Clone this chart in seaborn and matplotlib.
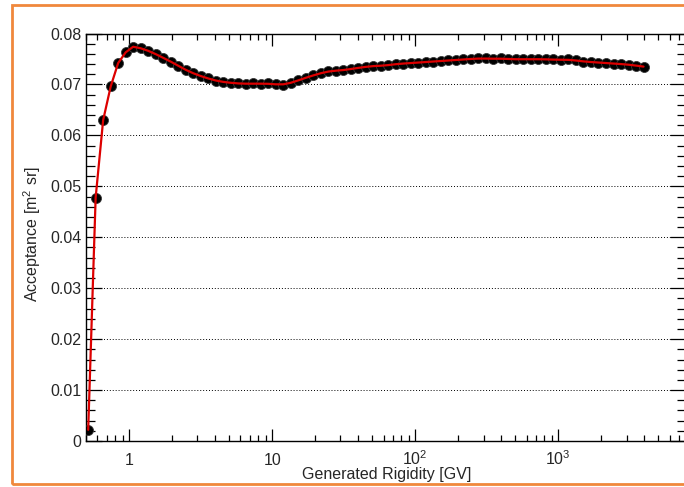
import numpy as np
import pandas as pd
import matplotlib
matplotlib.use("Agg")
import matplotlib.pyplot as plt
from matplotlib.ticker import FixedLocator, LogLocator, MultipleLocator, NullFormatter, FixedFormatter
from matplotlib.patches import Rectangle
import seaborn as sns

# Generated rigidity bin centres [GV]
rigidity = [
    0.518, 0.584, 0.659, 0.744, 0.839, 0.947, 1.068, 1.205, 1.360, 1.535,
    1.732, 1.954, 2.205, 2.488, 2.807, 3.168, 3.574, 4.033, 4.551, 5.135,
    5.794, 6.538, 7.378, 8.325, 9.394, 10.60, 11.96, 13.50, 15.23, 17.18,
    19.39, 21.88, 24.69, 27.86, 31.44, 35.47, 40.03, 45.16, 50.96, 57.50,
    64.88, 73.21, 82.61, 93.19, 105.2, 118.7, 133.9, 151.1, 170.5, 192.3,
    217.0, 244.9, 276.3, 311.8, 351.8, 396.9, 447.9, 505.3, 570.2, 643.4,
    726.1, 819.2, 924.5, 1043, 1177, 1328, 1498, 1691, 1908, 2153,
    2429, 2741, 3093, 3490, 3938,
]

# Acceptance [m^2 sr]
acceptance = [
    0.0022, 0.0478, 0.0630, 0.0696, 0.0742, 0.0763, 0.0774, 0.0772, 0.0766, 0.0760,
    0.0752, 0.0745, 0.0737, 0.0728, 0.0722, 0.0716, 0.0712, 0.0707, 0.0705, 0.0703,
    0.0702, 0.0701, 0.0702, 0.0701, 0.0702, 0.0700, 0.0699, 0.0703, 0.0708, 0.0713,
    0.0718, 0.0722, 0.0726, 0.0727, 0.0728, 0.0730, 0.0733, 0.0734, 0.0737, 0.0736,
    0.0738, 0.0740, 0.0741, 0.0742, 0.0743, 0.0744, 0.0745, 0.0746, 0.0747, 0.0748,
    0.0749, 0.0750, 0.0751, 0.0751, 0.0750, 0.0751, 0.0750, 0.0749, 0.0750, 0.0749,
    0.0750, 0.0749, 0.0749, 0.0748, 0.0749, 0.0747, 0.0745, 0.0744, 0.0743, 0.0742,
    0.0741, 0.0740, 0.0739, 0.0737, 0.0735,
]

x_tick_values = [1, 10, 100, 1000]
x_tick_labels = ["1", "10", "$10^{2}$", "$10^{3}$"]
y_tick_values = [0.0, 0.01, 0.02, 0.03, 0.04, 0.05, 0.06, 0.07, 0.08]
y_tick_labels = ["0", "0.01", "0.02", "0.03", "0.04", "0.05", "0.06", "0.07", "0.08"]

sns.set_style("ticks")
plt.rcParams["font.family"] = ["Liberation Sans", "DejaVu Sans"]
plt.rcParams["mathtext.fontset"] = "custom"
plt.rcParams["mathtext.rm"] = "Liberation Sans"
plt.rcParams["mathtext.it"] = "Liberation Sans"
plt.rcParams["mathtext.default"] = "regular"

FS = 11.5

df = pd.DataFrame({"rigidity": rigidity, "acceptance": acceptance})

# Smooth curve through the points: light 3-point running mean beyond the turn-on
fit = np.array(acceptance, dtype=float)
smooth = np.convolve(fit, [0.25, 0.5, 0.25], mode="same")
fit[7:-1] = smooth[7:-1]
df["fit"] = fit

W, H = 684, 487
fig = plt.figure(figsize=(W / 100, H / 100), dpi=100)
ax = fig.add_axes([86 / W, (H - 441) / H, (686 - 86) / W, (441 - 33.5) / H])

ax.set_xscale("log")
ax.set_xlim(0.5, 7800)
ax.set_ylim(0, 0.08)

sns.scatterplot(data=df, x="rigidity", y="acceptance", ax=ax, color="black",
                s=52, edgecolor="#3a3a3a", linewidth=0.6, zorder=3, legend=False)
sns.lineplot(data=df, x="rigidity", y="fit", ax=ax, color="#dd0000",
             linewidth=1.6, zorder=4, legend=False)

ax.set_xlabel("")
ax.set_ylabel("")

# Axis ticks, inward on all four sides
ax.xaxis.set_major_locator(FixedLocator(x_tick_values))
ax.xaxis.set_minor_locator(LogLocator(base=10, subs=np.arange(2, 10), numticks=20))
ax.xaxis.set_major_formatter(NullFormatter())
ax.xaxis.set_minor_formatter(NullFormatter())
ax.yaxis.set_major_locator(FixedLocator(y_tick_values))
ax.yaxis.set_major_formatter(FixedFormatter(y_tick_labels))
ax.yaxis.set_minor_locator(MultipleLocator(0.002))

ax.tick_params(which="both", direction="in", top=True, right=True, width=0.9, color="black")
ax.tick_params(axis="x", which="major", length=8.6)
ax.tick_params(axis="x", which="minor", length=4.6)
ax.tick_params(axis="y", which="major", length=11.5, labelsize=FS, pad=3.5)
ax.tick_params(axis="y", which="minor", length=6.3)

for v, lab in zip(x_tick_values, x_tick_labels):
    ax.text(v, -24 / 407.5, lab, transform=ax.get_xaxis_transform(), ha="center",
            va="baseline", fontsize=FS)

for side in ["left", "right", "top", "bottom"]:
    ax.spines[side].set_linewidth(1.0)
    ax.spines[side].set_color("black")

ax.grid(axis="y", which="major", color="black", linestyle=(0, (1, 2)), linewidth=0.7)
ax.set_axisbelow(True)

fig.text(387 / W, 1 - 479.5 / H, "Generated Rigidity [GV]", ha="center", va="baseline", fontsize=FS)
fig.text(32 / W, 1 - 234 / H, "Acceptance [m$^{2}$ sr]", rotation=90,
         ha="center", va="center", fontsize=FS)

# Canvas frame
fig.add_artist(Rectangle((12 / W, 3 / H), (720 - 12) / W, (482 - 3) / H,
                         transform=fig.transFigure, fill=False,
                         edgecolor="#F0883C", linewidth=2.0, clip_on=False))

fig.savefig("out.png", dpi=100)
